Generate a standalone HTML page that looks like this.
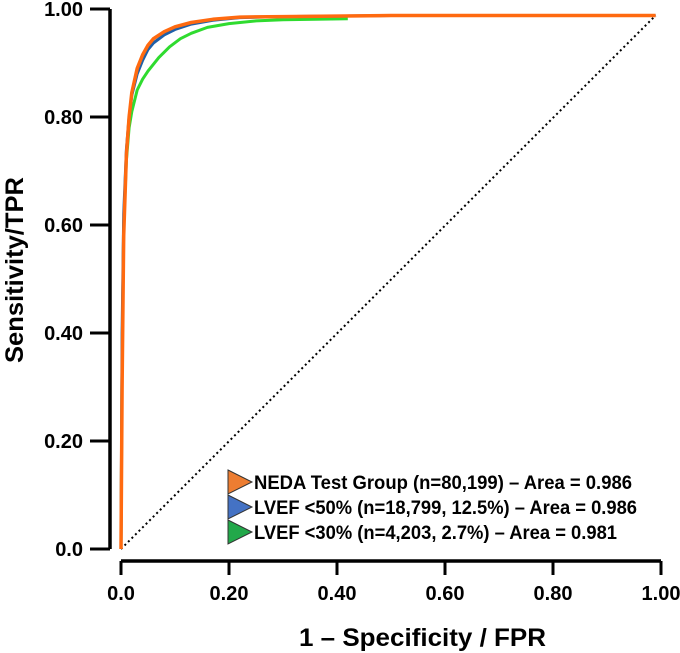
<!DOCTYPE html>
<html><head><meta charset="utf-8"><style>
html,body{margin:0;padding:0;background:#fff}
svg{display:block;font-family:"Liberation Sans",sans-serif;font-weight:bold}
</style></head><body>
<svg id="chart" width="680" height="653" viewBox="0 0 680 653">
<g id="axes"></g><g id="series"></g><g id="legend"></g>
</svg>
<script>
const xTicks=[0,0.2,0.4,0.6,0.8,1.0];
const xTickLabels=["0.0","0.20","0.40","0.60","0.80","1.00"];
const yTicks=[0,0.2,0.4,0.6,0.8,1.0];
const yTickLabels=["0.0","0.20","0.40","0.60","0.80","1.00"];
const seriesNames=["NEDA Test Group (n=80,199) \u2013 Area = 0.986","LVEF <50% (n=18,799, 12.5%) \u2013 Area = 0.986","LVEF <30% (n=4,203, 2.7%) \u2013 Area = 0.981"];
const greenFpr=[0,0.002,0.005,0.01,0.015,0.02,0.03,0.04,0.05,0.07,0.09,0.11,0.13,0.16,0.2,0.25,0.3,0.42];
const greenTpr=[0,0.35,0.6,0.72,0.78,0.81,0.85,0.87,0.885,0.91,0.93,0.945,0.955,0.966,0.973,0.978,0.98,0.982];
const blueFpr=[0,0.002,0.005,0.01,0.015,0.02,0.03,0.04,0.05,0.06,0.08,0.1,0.13,0.17,0.22,0.3,0.5,0.99];
const blueTpr=[0,0.4,0.62,0.74,0.8,0.84,0.88,0.905,0.925,0.937,0.952,0.962,0.972,0.979,0.984,0.986,0.988,0.988];
const orangeFpr=[0,0.002,0.005,0.01,0.015,0.02,0.03,0.04,0.05,0.06,0.08,0.1,0.13,0.17,0.22,0.3,0.5,0.99];
const orangeTpr=[0,0.3,0.58,0.73,0.8,0.845,0.89,0.915,0.933,0.945,0.958,0.967,0.975,0.981,0.985,0.986,0.988,0.988];

const NS="http://www.w3.org/2000/svg";
const X=v=>121+v*540, Y=v=>549-v*540;
function mk(tag,attrs,parent){const e=document.createElementNS(NS,tag);for(const k in attrs)e.setAttribute(k,attrs[k]);parent.appendChild(e);return e;}
const axes=document.getElementById('axes'),series=document.getElementById('series'),legend=document.getElementById('legend');

let yl=mk('line',{x1:110,y1:Y(1),x2:110,y2:Y(0),stroke:'#000','stroke-width':3.5},axes);

let xl=mk('line',{x1:X(0),y1:561,x2:X(1),y2:561,stroke:'#000','stroke-width':3.5},axes);

yTicks.forEach((v,i)=>{
  let t=mk('line',{x1:90,y1:Y(v),x2:110,y2:Y(v),stroke:'#000','stroke-width':3},axes);
  
  let l=mk('text',{x:83,y:Y(v)+7,'text-anchor':'end','font-size':20},axes);l.textContent=yTickLabels[i];
  
});
xTicks.forEach((v,i)=>{
  let t=mk('line',{x1:X(v),y1:561,x2:X(v),y2:575,stroke:'#000','stroke-width':3},axes);
  
  let l=mk('text',{x:X(v),y:600,'text-anchor':'middle','font-size':20},axes);l.textContent=xTickLabels[i];
  
});
let xt=mk('text',{x:299,y:646,'font-size':25,textLength:247,lengthAdjust:'spacingAndGlyphs'},axes);xt.textContent='1 \u2013 Specificity / FPR';

let yt=mk('text',{x:0,y:0,'text-anchor':'middle','font-size':25,textLength:186,lengthAdjust:'spacingAndGlyphs',transform:'translate(23,270) rotate(-90)'},axes);yt.textContent='Sensitivity/TPR';


let diag=mk('line',{x1:X(0),y1:Y(0),x2:X(0.99),y2:Y(0.988),stroke:'#000','stroke-width':2,'stroke-dasharray':'2,3'},series);

function drawLine(fx,ty,color,name,w){
  const d=fx.map((f,i)=>(i?'L':'M')+X(f).toFixed(1)+','+Y(ty[i]).toFixed(1)).join(' ');
  let p=mk('path',{d:d,fill:'none',stroke:color,'stroke-width':w,'stroke-linejoin':'round'},series);
  
}
drawLine(greenFpr,greenTpr,'#2fdb2f','roc-line-lvef-30',3);
drawLine(blueFpr,blueTpr,'#1f5fa8','roc-line-lvef-50',3);
drawLine(orangeFpr,orangeTpr,'#ff6a10','roc-line-neda',3.5);

const legColors=['#ed7d31','#4472c4','#22a84a'];
const legLens=[378,383,363];
seriesNames.forEach((n,i)=>{
  const cy=482+i*25;
  let tri=mk('path',{d:`M228,${cy-12} L252,${cy} L228,${cy+12} Z`,fill:legColors[i],stroke:'#333','stroke-width':1},legend);
  
  let t=mk('text',{x:254,y:cy+7,'font-size':19,textLength:legLens[i],lengthAdjust:'spacingAndGlyphs'},legend);t.textContent=n;
  
});
</script>
</body></html>
